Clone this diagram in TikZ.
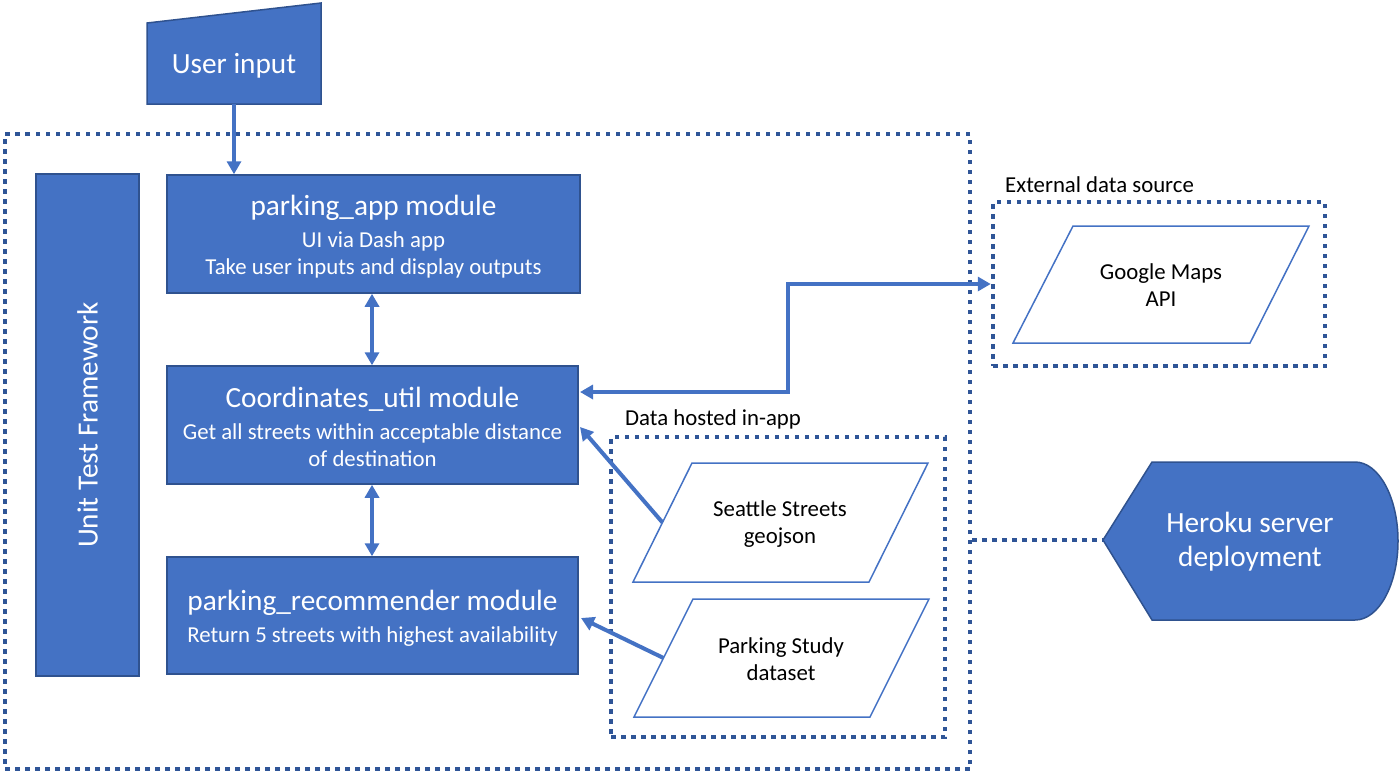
\documentclass[tikz,border=0pt]{standalone}
\usepackage{fontspec}
\usepackage{graphicx}
\setmainfont{Carlito}
\usetikzlibrary{arrows.meta,calc}
\definecolor{blu}{HTML}{4472C4}
\definecolor{bdr}{HTML}{2F528F}
\definecolor{dotc}{HTML}{2F5597}
\newcommand\fntL{\fontsize{29.3}{34}\selectfont}
\newcommand\fntS{\fontsize{22.8}{27}\selectfont}
\begin{document}
\begin{tikzpicture}[x=1pt,y=-1pt,
  box/.style={draw=bdr,line width=1.5pt,fill=blu,text=white,align=center,inner sep=0pt,font=\fntS},
  boxtxt/.style={text=white,align=center,inner sep=0pt,font=\fntS},
  dotbox/.style={draw=dotc,line width=4.5pt,dash pattern=on 4.5pt off 5.5pt,inner sep=0pt},
  para/.style={draw=blu,line width=1.5pt},
  arr/.style={draw=blu,line width=4pt,-{Triangle[length=13pt,width=14pt]}},
  darr/.style={draw=blu,line width=4pt,{Triangle[length=13pt,width=14pt]}-{Triangle[length=13pt,width=14pt]}},
  lbl/.style={font=\fntS,text=black,inner sep=0pt,align=center}]
\useasboundingbox (0,0) rectangle (1400,772);

% dotted containers
\node[dotbox,minimum width=965pt,minimum height=635pt] (outer) at (487.5,451.5) {};
\node[dotbox,minimum width=332pt,minimum height=164pt] (ext) at (1159,284) {};
\node[dotbox,minimum width=334pt,minimum height=300pt] (data) at (778,587) {};
\node[lbl,anchor=west] (extl) at (1005,185) {External data source};
\node[lbl,anchor=west] (datal) at (625,419) {Data hosted in-app};

% user input (manual input shape)
\fill[blu,draw=bdr,line width=1.5pt] (147,23) -- (321,3) -- (321,104) -- (147,104) -- cycle;
\node[lbl,text=white,font=\fntL] (ui) at (234,66) {User input};
\coordinate (uib) at (234,104);

% modules
\node[box,minimum width=103pt,minimum height=502pt,font=\fntL] (ut) at (87.5,425) {\rotatebox{90}{Unit Test Framework}};
\node[box,minimum width=413pt,minimum height=118pt] (pa) at (373.5,234) {};
\node[boxtxt] (pat) at ([yshift=-3pt]pa.center)
  {{\fntL parking\_app module}\\[5pt] UI via Dash app\\ Take user inputs and display outputs};
\node[box,minimum width=411pt,minimum height=118pt] (cu) at (372.5,425) {};
\node[boxtxt] (cut) at ([yshift=-2pt]cu.center)
  {{\fntL Coordinates\_util module}\\[5pt] Get all streets within acceptable distance\\ of destination};
\node[box,minimum width=411pt,minimum height=117pt] (pr) at (372.5,615.5) {};
\node[boxtxt] (prt) at ([yshift=-3pt]pr.center)
  {{\fntL parking\_recommender module}\\[5pt] Return 5 streets with highest availability};

% data parallelograms
\draw[para] (1073,226) -- (1309,226) -- (1250,343) -- (1013,343) -- cycle;
\node[lbl] (gm) at (1161,285) {Google Maps\\ API};
\draw[para] (692,463) -- (928,463) -- (869,582) -- (633,582) -- cycle;
\node[lbl] (ss) at (780,524) {Seattle Streets\\ geojson};
\coordinate (ssl) at (662.5,522.5);
\draw[para] (693,599) -- (929,599) -- (870,717) -- (634,717) -- cycle;
\node[lbl] (ps) at (781,659) {Parking Study\\ dataset};
\coordinate (psl) at (663.5,658);

% Heroku display shape
\fill[blu,draw=bdr,line width=1.5pt] (1103,540) -- (1152,462) -- (1355,462)
  arc[start angle=-90,end angle=90,x radius=43,y radius=79] -- (1152,620) -- cycle;
\node[lbl,text=white,font=\fntL] (her) at (1250,542) {Heroku server\\ deployment};
\coordinate (herp) at (1103,540);

% connectors
\draw[arr] (uib) -- (pa.north -| uib);
\draw[darr] ([xshift=-1.5pt]pa.south) -- ([xshift=-0.5pt]cu.north);
\draw[darr] ([xshift=-0.5pt]cu.south) -- ([xshift=-0.5pt]pr.north);
\coordinate (g1) at (580,392);
\coordinate (g2) at (788,392);
\coordinate (g3) at (788,284);
\draw[darr] (g1) -- (g2) -- (g3) -- (ext.west);
\coordinate (c1) at (580,427);
\draw[arr] (ssl) -- (c1);
\coordinate (c2) at (581,618);
\draw[arr] (psl) -- (c2);
\draw[dotbox] (outer.east |- herp) -- (herp);
\end{tikzpicture}
\end{document}
